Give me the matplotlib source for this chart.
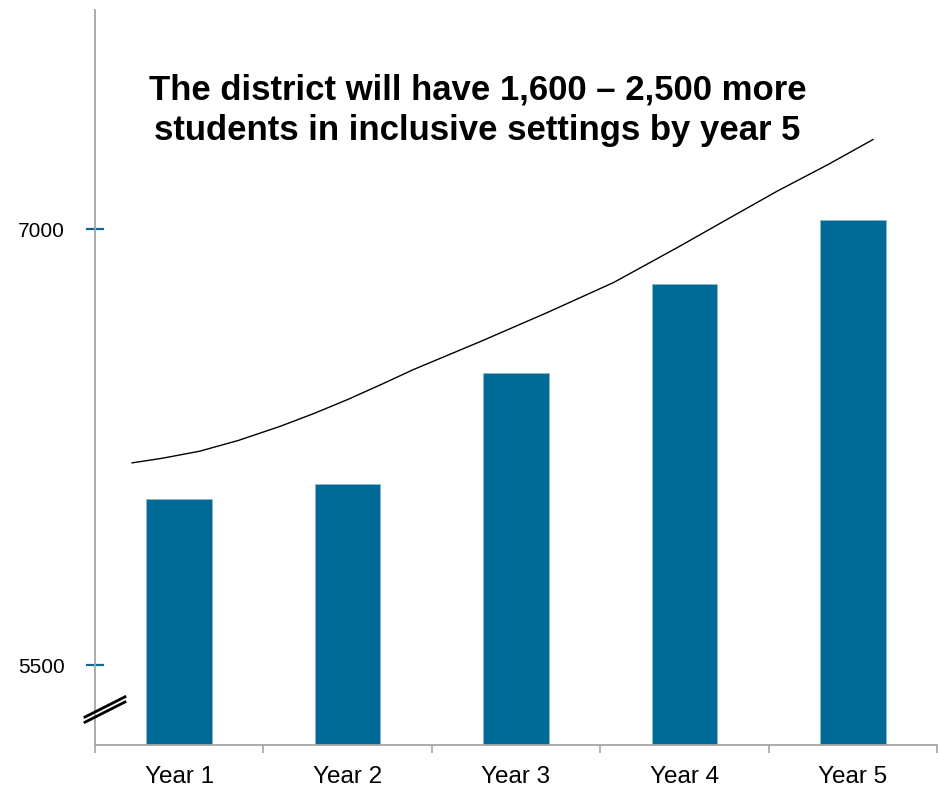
import matplotlib
matplotlib.use("Agg")
import matplotlib.pyplot as plt
import numpy as np

plt.rcParams['font.family'] = ['Liberation Sans', 'DejaVu Sans']

# data
years = ['Year 1', 'Year 2', 'Year 3', 'Year 4', 'Year 5']
students = [6072, 6122, 6505, 6811, 7032]

# hand-drawn trend line above the bars (x in category units, y in students)
curve_x = [-0.28, -0.10, 0.12, 0.35, 0.60, 0.80, 1.00, 1.20, 1.39, 1.79, 2.18, 2.58, 2.97, 3.25, 3.55, 3.85, 4.12]
curve_y = [6196, 6212, 6236, 6273, 6322, 6366, 6414, 6466, 6517, 6614, 6712, 6817, 6941, 7033, 7131, 7222, 7309]

ytick_vals = [5500, 7000]

bar_color = '#006a97'
spine_color = '#a6a6a6'

fig = plt.figure(figsize=(9.4, 7.91), dpi=100)
ax = fig.add_axes([0.1011, 0.0582, 0.8957, 0.9292])

x = np.arange(len(years))
ax.bar(x, students, width=0.39, color=bar_color, edgecolor='#8bbad0', linewidth=0.6, zorder=2)
ax.plot(curve_x, curve_y, color='black', lw=1.0, zorder=3)

ax.set_xlim(-0.5, len(years) - 0.5)
ax.set_ylim(5225, 7755)

# x ticks sit on category boundaries, labels in the middle
ax.set_xticks(np.arange(len(years) + 1) - 0.5)
ax.set_xticklabels([])
ax.set_xticks(x, minor=True)
ax.set_xticklabels(years, minor=True, fontsize=17.5)
ax.tick_params(axis='x', which='major', direction='out', length=6, width=1.2, color=spine_color)
ax.tick_params(axis='x', which='minor', length=0, pad=15)

ax.set_yticks(ytick_vals)
ax.set_yticklabels([str(v) for v in ytick_vals], fontsize=15)
ax.tick_params(axis='y', direction='inout', length=13, width=1.6, color='#12689a', pad=15)

for s in ['top', 'right']:
    ax.spines[s].set_visible(False)
for s in ['left', 'bottom']:
    ax.spines[s].set_color(spine_color)
    ax.spines[s].set_linewidth(1.3)

# axis break mark
for dy in (0.0, 0.007):
    ax.plot([-0.0119, 0.0356], [0.031 + dy, 0.0585 + dy], transform=ax.transAxes,
            color='black', lw=2.0, clip_on=False, zorder=5)

fig.text(0.508, 0.861, 'The district will have 1,600 \u2013 2,500 more\nstudents in inclusive settings by year 5',
         ha='center', va='center', fontsize=25, fontweight='bold', linespacing=1.3)

fig.savefig('out.png', dpi=100)
